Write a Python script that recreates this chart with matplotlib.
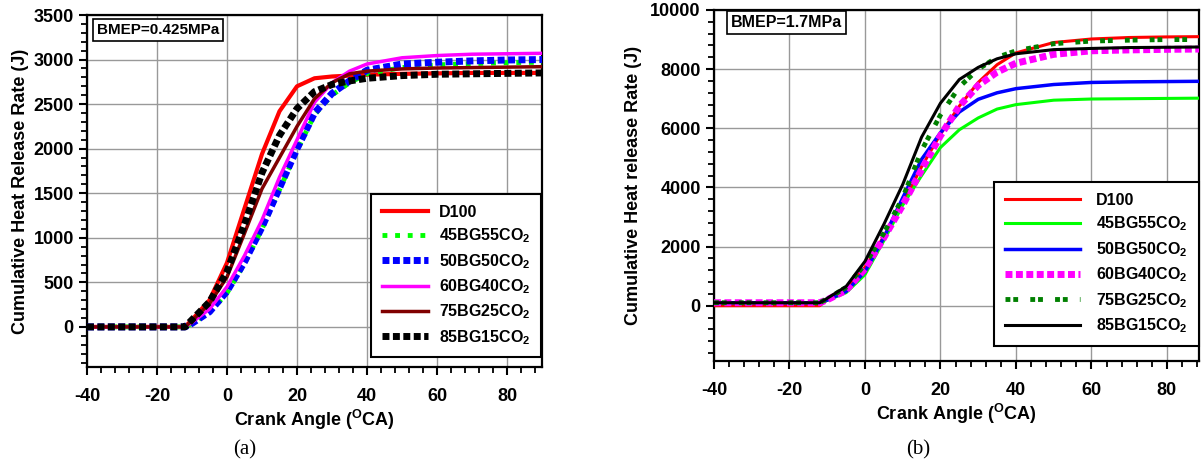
import matplotlib
matplotlib.use('Agg')
import matplotlib.pyplot as plt
from matplotlib.ticker import MultipleLocator

plt.rcParams['font.family'] = ['Liberation Sans', 'DejaVu Sans']
plt.rcParams['font.weight'] = 'bold'
plt.rcParams['axes.unicode_minus'] = False
plt.rcParams['mathtext.fontset'] = 'custom'
plt.rcParams['mathtext.rm'] = 'Liberation Sans:bold'
plt.rcParams['mathtext.bf'] = 'Liberation Sans:bold'
plt.rcParams['mathtext.default'] = 'bf'

# crank angle (deg CA) where values were read
ANGLE = [-40, -12, -10, -5, 0, 5, 10, 15, 20, 25, 30, 35, 40, 50, 60, 70, 80, 90]
LABELS = ['D100', '45BG55CO$_2$', '50BG50CO$_2$', '60BG40CO$_2$', '75BG25CO$_2$', '85BG15CO$_2$']

# (a) BMEP = 0.425 MPa, cumulative heat release (J)
a_d100 = [0, 0, 80, 300, 720, 1330, 1940, 2420, 2700, 2790, 2810, 2820, 2830, 2840, 2845, 2850, 2850, 2850]
a_45bg = [0, 0, 40, 160, 380, 710, 1100, 1540, 1980, 2380, 2600, 2740, 2840, 2910, 2940, 2955, 2965, 2970]
a_50bg = [0, 0, 40, 170, 400, 730, 1120, 1560, 2000, 2400, 2620, 2760, 2880, 2950, 2970, 2985, 2995, 3000]
a_60bg = [0, 0, 50, 200, 450, 800, 1200, 1680, 2100, 2520, 2740, 2870, 2950, 3020, 3045, 3060, 3065, 3070]
a_75bg = [0, 0, 70, 260, 560, 1050, 1550, 1900, 2250, 2560, 2740, 2840, 2870, 2895, 2905, 2910, 2915, 2920]
a_85bg = [0, 0, 80, 280, 620, 1150, 1730, 2150, 2450, 2640, 2720, 2760, 2790, 2820, 2835, 2840, 2845, 2850]

# (b) BMEP = 1.7 MPa
b_d100 = [0, 0, 200, 580, 1300, 2350, 3450, 4700, 5800, 6750, 7550, 8150, 8550, 8900, 9020, 9070, 9090, 9100]
b_45bg = [100, 100, 180, 440, 1050, 2200, 3400, 4400, 5350, 5950, 6350, 6650, 6800, 6950, 6990, 7000, 7010, 7020]
b_50bg = [100, 100, 190, 480, 1150, 2300, 3650, 4950, 5850, 6550, 6980, 7200, 7340, 7480, 7550, 7570, 7580, 7590]
b_60bg = [100, 100, 200, 520, 1250, 2300, 3400, 4600, 5750, 6750, 7450, 7900, 8200, 8500, 8620, 8650, 8670, 8680]
b_75bg = [100, 100, 230, 620, 1400, 2450, 3650, 5250, 6450, 7400, 8000, 8400, 8620, 8860, 8950, 8980, 9000, 9000]
b_85bg = [100, 100, 250, 650, 1500, 2750, 4100, 5700, 6850, 7650, 8060, 8350, 8520, 8660, 8700, 8730, 8740, 8750]

W, H = 1202, 468
fig = plt.figure(figsize=(W / 100, H / 100), dpi=100)
axa = fig.add_axes([87 / W, 1 - 367 / H, 455 / W, 352 / H])
axb = fig.add_axes([714 / W, 1 - 361 / H, 485 / W, 351 / H])

# left panel styles
sq = dict(solid_capstyle='butt', dash_capstyle='butt')
axa.plot(ANGLE, a_d100, color='red', lw=3, label=LABELS[0], zorder=3)
axa.plot(ANGLE, a_45bg, color='#00ff00', lw=3.5, ls=(0, (1, 1.6)), label=LABELS[1], zorder=3, **sq)
axa.plot(ANGLE, a_50bg, color='blue', lw=5, ls=(0, (1, 0.5)), label=LABELS[2], zorder=4, **sq)
axa.plot(ANGLE, a_60bg, color='magenta', lw=2.5, label=LABELS[3], zorder=5)
axa.plot(ANGLE, a_75bg, color='#800000', lw=2.5, label=LABELS[4], zorder=5)
axa.plot(ANGLE, a_85bg, color='black', lw=5, ls=(0, (1, 0.5)), label=LABELS[5], zorder=6, **sq)

# right panel styles
axb.plot(ANGLE, b_d100, color='red', lw=2.2, label=LABELS[0], zorder=3)
axb.plot(ANGLE, b_45bg, color='#00ff00', lw=2.2, label=LABELS[1], zorder=3)
axb.plot(ANGLE, b_50bg, color='blue', lw=2.5, label=LABELS[2], zorder=3)
axb.plot(ANGLE, b_60bg, color='magenta', lw=5, ls=(0, (1, 0.5)), label=LABELS[3], zorder=4, **sq)
axb.plot(ANGLE, b_75bg, color='#008000', lw=3.5, ls=(0, (1, 0.6, 1, 2.5)), label=LABELS[4], zorder=5, **sq)
axb.plot(ANGLE, b_85bg, color='black', lw=2.2, label=LABELS[5], zorder=6)

axa.set_xlim(-40, 90)
axb.set_xlim(-40, 88.5)
axa.set_ylim(-450, 3500)
axb.set_ylim(-1870, 10000)

for ax, ymaj, ymin in [(axa, 500, 100), (axb, 2000, 400)]:
    ax.yaxis.set_major_locator(MultipleLocator(ymaj))
    ax.yaxis.set_minor_locator(MultipleLocator(ymin))
    ax.xaxis.set_major_locator(MultipleLocator(20))
    ax.xaxis.set_minor_locator(MultipleLocator(4))
    ax.grid(True, which='major', color='#999999', lw=1)
    ax.set_axisbelow(True)
    for s in ax.spines.values():
        s.set_linewidth(1.6)
    ax.tick_params(which='major', length=6, width=1.5, labelsize=13, direction='out')
    ax.tick_params(which='minor', length=4, width=1.3, direction='out')
    ax.tick_params(axis='x', which='major', pad=9)
    for lab in ax.get_xticklabels() + ax.get_yticklabels():
        lab.set_fontweight('bold')
    ax.set_xlabel('Crank Angle ($^{O}$CA)', fontsize=13, fontweight='bold', labelpad=2)

axa.set_ylabel('Cumulative Heat Release Rate (J)', fontsize=13, fontweight='bold', labelpad=3)
axb.set_ylabel('Cumulative Heat release Rate (J)', fontsize=13, fontweight='bold', labelpad=6)

leg_a = axa.legend(loc='lower right', bbox_to_anchor=(0.998, 0.028), borderaxespad=0, fancybox=False,
                   edgecolor='black', framealpha=1, fontsize=11.5, handlelength=2.9, handletextpad=0.7,
                   labelspacing=0.42, borderpad=0.65)
leg_a.get_frame().set_linewidth(1.5)
leg_b = axb.legend(loc='lower right', bbox_to_anchor=(1.0, 0.042), borderaxespad=0, fancybox=False,
                   edgecolor='black', framealpha=1, fontsize=11.5, handlelength=4.7, handletextpad=1.0,
                   labelspacing=0.42, borderpad=0.7)
leg_b.get_frame().set_linewidth(1.5)

box = dict(boxstyle='square,pad=0.25', fc='white', ec='black', lw=1.2)
axa.text(0.022, 0.978, 'BMEP=0.425MPa', transform=axa.transAxes, fontsize=11, va='top', bbox=box)
axb.text(0.035, 0.985, 'BMEP=1.7MPa', transform=axb.transAxes, fontsize=11.5, va='top', bbox=box)

fig.text(245 / W, 1 - 450 / H, '(a)', family='Liberation Serif', fontweight='normal', fontsize=15,
         ha='center', va='center')
fig.text(918 / W, 1 - 450 / H, '(b)', family='Liberation Serif', fontweight='normal', fontsize=15,
         ha='center', va='center')

fig.savefig('out.png', dpi=100)
